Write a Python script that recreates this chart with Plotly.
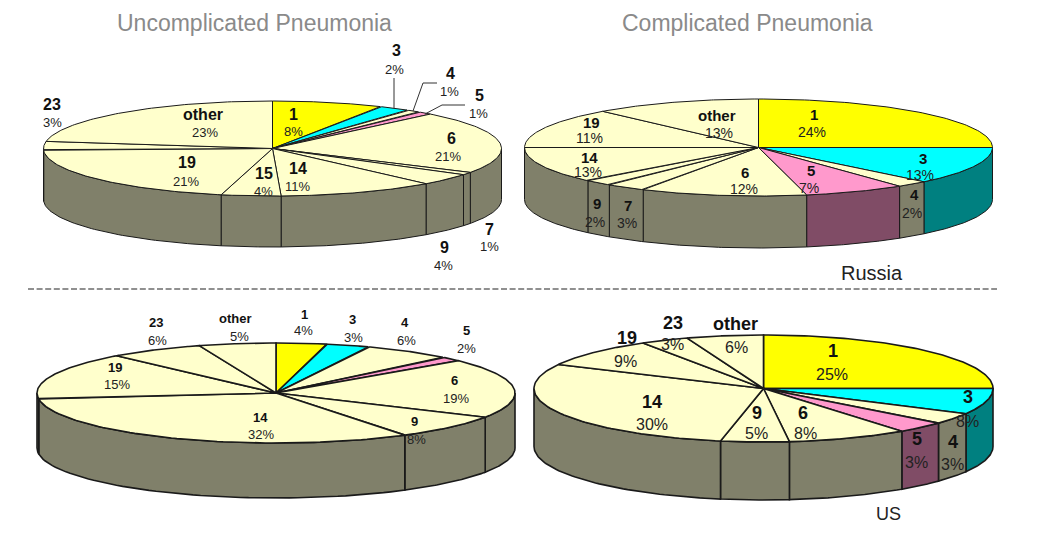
import numpy as np
import plotly.graph_objects as go

# Slice sizes in % of the pie (read off the angles), printed labels kept apart
# since the original percentages do not quite add up with the drawn angles.
tl_names = ["1", "3", "4", "5", "6", "7", "9", "14", "15", "19", "23", "other"]
tl_values = [7.8, 2.2, 1.0, 1.1, 21.3, 0.9, 4.0, 11.1, 4.2, 20.8, 3.0, 22.6]
tl_pct = ["8%", "2%", "1%", "1%", "21%", "1%", "4%", "11%", "4%", "21%", "3%", "23%"]

tr_names = ["1", "3", "4", "5", "6", "7", "9", "14", "19", "other"]
tr_values = [25.0, 12.5, 2.2, 7.0, 11.5, 2.8, 2.0, 12.0, 13.4, 11.6]
tr_pct = ["24%", "13%", "2%", "7%", "12%", "3%", "2%", "13%", "11%", "13%"]

bl_names = ["1", "3", "4", "5", "6", "9", "14", "19", "23", "other"]
bl_values = [3.4, 2.9, 6.0, 1.5, 19.2, 7.9, 32.1, 15.3, 6.4, 5.2]
bl_pct = ["4%", "3%", "6%", "2%", "19%", "8%", "32%", "15%", "6%", "5%"]

br_names = ["1", "3", "4", "5", "6", "9", "14", "19", "23", "other"]
br_values = [25.0, 7.8, 3.4, 3.5, 8.5, 4.8, 29.4, 8.8, 3.4, 5.4]
br_pct = ["25%", "8%", "3%", "3%", "8%", "5%", "30%", "9%", "3%", "6%"]

# Styles -------------------------------------------------------------------------

TOP_COLORS = {"1": "#ffff00", "3": "#00ffff", "5": "#ff99cc"}
SIDE_COLORS = {"1": "#808000", "3": "#008080", "5": "#804c66"}
CREAM = "#ffffcc"
KHAKI = "#80806a"
FONT = "Liberation Sans"

# Label layout: (x, y of number, y of percent, x of percent), one per slice
tl_pos = [(293, 114, 131, 293), (396, 50, 69, 394), (450, 73, 91, 449), (479, 95, 113, 478),
          (451, 138, 156, 448), (489, 229, 246, 489), (444, 247, 265, 443), (298, 168, 186, 297),
          (264, 173, 191, 263), (187, 162, 181, 186), (52, 104, 122, 52), (203, 114, 132, 205)]
tr_pos = [(814, 114, 132, 812), (923, 158, 175, 920), (914, 194, 213, 912), (811, 170, 188, 809),
          (745, 172, 189, 744), (628, 205, 223, 627), (597, 203, 222, 595), (589, 157, 172, 588),
          (591, 122, 138, 589), (717, 115, 133, 719)]
bl_pos = [(304, 314, 330, 303), (352, 319, 337, 353), (405, 322, 340, 406), (466, 330, 348, 466),
          (454, 380, 398, 456), (414, 421, 439, 416), (260, 417, 434, 261), (115, 367, 384, 117),
          (156, 322, 340, 157), (235, 318, 336, 239)]
br_pos = [(833, 351, 374, 832), (968, 397, 421, 967), (953, 442, 464, 952), (917, 439, 462, 916),
          (803, 413, 433, 805), (757, 413, 433, 756), (652, 402, 424, 652), (627, 338, 361, 625),
          (673, 323, 344, 672), (735, 324, 347, 736)]

PIES = [
    dict(names=tl_names, values=tl_values, pct=tl_pct, pos=tl_pos, cx=272.5, cy=148.5, rx=229, ry=47.5,
         depth=51, lw=1, name_size=16, pct_size=13),
    dict(names=tr_names, values=tr_values, pct=tr_pct, pos=tr_pos, cx=758.5, cy=147.5, rx=234, ry=48.5,
         depth=52, lw=1, name_size=15, pct_size=14),
    dict(names=bl_names, values=bl_values, pct=bl_pct, pos=bl_pos, cx=276, cy=393, rx=239, ry=50,
         depth=55, lw=1.6, name_size=13, pct_size=13),
    dict(names=br_names, values=br_values, pct=br_pct, pos=br_pos, cx=763.5, cy=388.5, rx=229.5, ry=53.5,
         depth=58, lw=1.6, name_size=18, pct_size=16),
]


def ellipse(pie, angles, drop=0):
    return pie["cx"] + pie["rx"] * np.sin(angles), pie["cy"] - pie["ry"] * np.cos(angles) + drop


def add_poly(fig, x, y, fill, lw):
    fig.add_trace(go.Scatter(
        x=x, y=y, mode="lines", fill="toself", fillcolor=fill,
        line=dict(color="#1a1a1a", width=lw), hoverinfo="skip", showlegend=False,
    ))


def draw_pie(fig, pie):
    edges = np.cumsum([0] + pie["values"]) / sum(pie["values"]) * 2 * np.pi
    for i, name in enumerate(pie["names"]):
        start, end = edges[i], edges[i + 1]
        # wall only exists for the part of the rim facing the viewer
        lo, hi = max(start, np.pi / 2), min(end, 3 * np.pi / 2)
        if hi > lo:
            arc = np.linspace(lo, hi, 60)
            x1, y1 = ellipse(pie, arc)
            x2, y2 = ellipse(pie, arc[::-1], pie["depth"])
            add_poly(fig, np.r_[x1, x2, x1[0]], np.r_[y1, y2, y1[0]],
                     SIDE_COLORS.get(name, KHAKI), pie["lw"])
    for i, name in enumerate(pie["names"]):
        arc = np.linspace(edges[i], edges[i + 1], 80)
        x, y = ellipse(pie, arc)
        add_poly(fig, np.r_[pie["cx"], x, pie["cx"]], np.r_[pie["cy"], y, pie["cy"]],
                 TOP_COLORS.get(name, CREAM), pie["lw"])
    for name, pct, (x, y1, y2, x2) in zip(pie["names"], pie["pct"], pie["pos"]):
        fig.add_annotation(x=x, y=y1, text=f"<b>{name}</b>", showarrow=False,
                           font=dict(family=FONT, size=pie["name_size"], color="#111111"))
        fig.add_annotation(x=x2, y=y2, text=pct, showarrow=False,
                           font=dict(family=FONT, size=pie["pct_size"], color="#222222"))


fig = go.Figure()
for pie in PIES:
    draw_pie(fig, pie)

# leader lines for the small slices of the first pie
for lx, ly in [([394, 394], [78, 108]), ([437, 423, 413], [83, 83, 111]), ([465, 442, 425], [105, 105, 114])]:
    fig.add_trace(go.Scatter(x=lx, y=ly, mode="lines", line=dict(color="#333333", width=1),
                             hoverinfo="skip", showlegend=False))

# dashed divider between the Russia and US rows
fig.add_trace(go.Scatter(x=[28, 997], y=[289, 289], mode="lines",
                         line=dict(color="#222222", width=1.2, dash="6px,2.6px"),
                         hoverinfo="skip", showlegend=False))

for text, x, y, size, color in [
    ("Uncomplicated Pneumonia", 254.5, 23, 23, "#8a8a8a"),
    ("Complicated Pneumonia", 747, 23, 23, "#8a8a8a"),
    ("Russia", 872, 273, 20, "#222222"),
    ("US", 888, 514, 18, "#222222"),
]:
    fig.add_annotation(x=x, y=y, text=text, showarrow=False, font=dict(family=FONT, size=size, color=color))

fig.update_layout(
    width=1053, height=534, margin=dict(l=0, r=0, t=0, b=0),
    paper_bgcolor="white", plot_bgcolor="white",
    xaxis=dict(range=[0, 1053], visible=False),
    yaxis=dict(range=[534, 0], visible=False),
)

fig.write_html("out.html", config=dict(displayModeBar=False),
               post_script="document.body.style.margin='0';")
